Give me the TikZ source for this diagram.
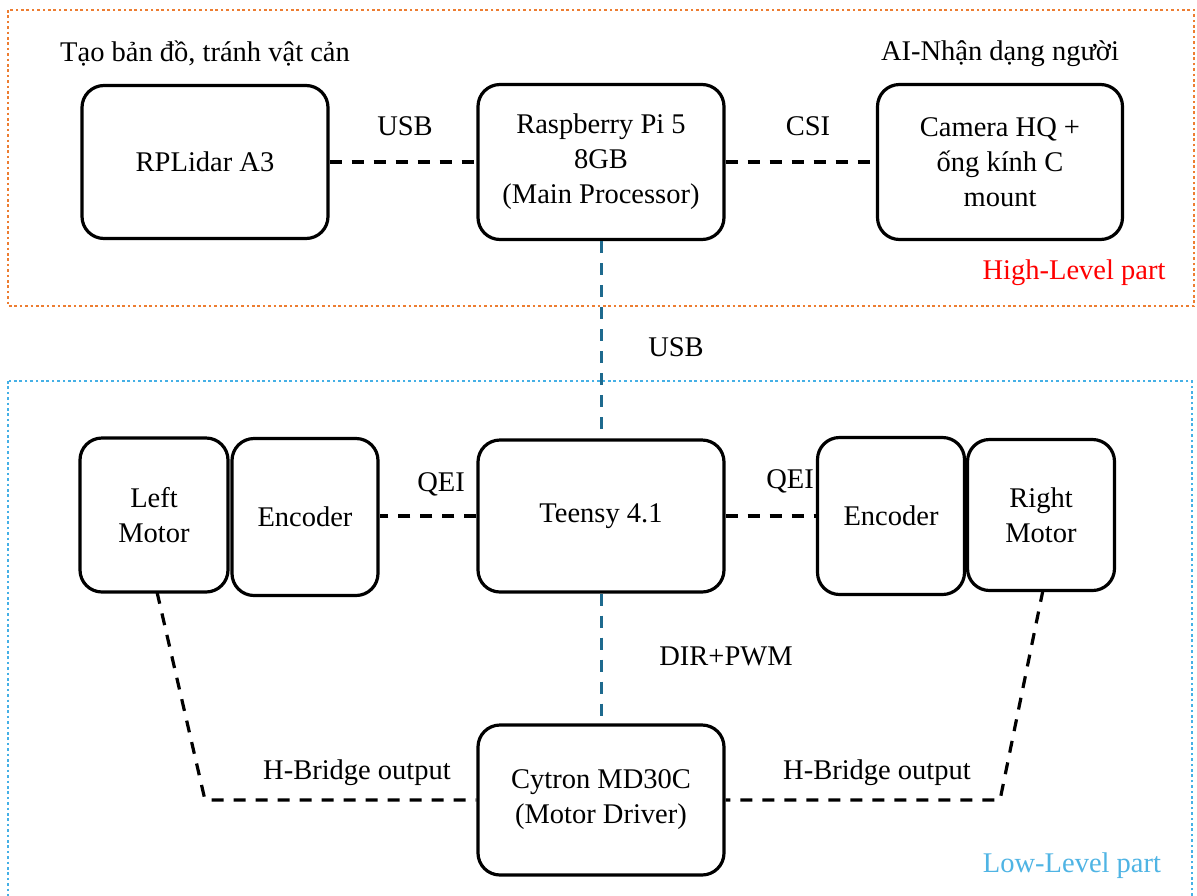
\documentclass[tikz,border=0pt]{standalone}
\usepackage{fontspec}
\setmainfont{Liberation Serif}
\definecolor{hiorange}{HTML}{ED7D31}
\definecolor{loblue}{HTML}{45B0E6}
\definecolor{tealc}{HTML}{1E6A8E}
\definecolor{lotext}{HTML}{4FB4E4}
\tikzset{
  box/.style={draw, line width=3.2pt, rounded corners=22pt, align=center,
    font=\fontsize{28.5}{35}\selectfont, inner sep=0pt},
  conn/.style={line width=3.2pt, dash pattern=on 12pt off 10pt},
  vconn/.style={conn, draw=tealc, line width=3pt},
  lbl/.style={font=\fontsize{28.5}{35}\selectfont, inner sep=0pt, align=center},
  frame/.style={line width=2.8pt, dash pattern=on 2.6pt off 2.8pt},
}
\begin{document}
\begin{tikzpicture}[x=1pt,y=-1pt]
\clip (0,0) rectangle (1197,895);
\fill[white] (0,0) rectangle (1197,895);
% frames
\draw[frame, draw=hiorange] (8,10) rectangle (1194,306);
\draw[frame, draw=loblue] (8,381) rectangle (1192,905);
% high level
\node[box, minimum width=246, minimum height=153] (lidar) at (205,162) {RPLidar A3};
\node[box, minimum width=246, minimum height=155] (rpi) at (601,162) {Raspberry Pi 5\\8GB\\(Main Processor)};
\node[box, minimum width=245, minimum height=155] (cam) at (1000,162) {Camera HQ +\\ống kính C\\mount};
\node[lbl] (t1) at (205,54) {Tạo bản đồ, tránh vật cản};
\node[lbl] (t2) at (1000,54) {AI-Nhận dạng người};
\node[lbl, text=red] (hl) at (1074,273) {High-Level part};
% low level
\node[box, minimum width=148, minimum height=154] (lmot) at (154,515) {Left\\Motor};
\node[box, minimum width=146, minimum height=157] (encl) at (305,517) {Encoder};
\node[box, minimum width=246, minimum height=152] (teensy) at (601,516) {Teensy 4.1};
\node[box, minimum width=147, minimum height=157] (encr) at (891,516) {Encoder};
\node[box, minimum width=147, minimum height=151] (rmot) at (1041,515) {Right\\Motor};
\node[box, minimum width=246, minimum height=150] (cyt) at (601,800) {Cytron MD30C\\(Motor Driver)};
\node[lbl, text=lotext] (ll) at (1072,866) {Low-Level part};
% connectors
\draw[conn] (lidar.east) -- (rpi.west);
\draw[conn] (rpi.east) -- (cam.west);
\draw[vconn] (rpi.south) -- (teensy.north);
\draw[vconn] (teensy.south) -- (cyt.north);
\draw[conn] (teensy.west) -- (teensy.west -| encl.east);
\draw[conn] (teensy.east) -- (teensy.east -| encr.west);
\coordinate (lc) at (205,800);
\coordinate (rc) at (1000,800);
\coordinate (ls) at (157,592);
\coordinate (rs) at (1043,590);
\draw[conn] (ls) -- (lc) -- (cyt.west);
\draw[conn] (rs) -- (rc) -- (cyt.east);
% connector labels
\node[lbl] (u1) at (405,126) {USB};
\node[lbl] (c1) at (808,126) {CSI};
\node[lbl] (u2) at (676,347) {USB};
\node[lbl] (q1) at (441,484) {QEI};
\node[lbl] (q2) at (790,481) {QEI};
\node[lbl] (dp) at (726,656) {DIR+PWM};
\node[lbl] (h1) at (357,773) {H-Bridge output};
\node[lbl] (h2) at (877,773) {H-Bridge output};
\end{tikzpicture}
\end{document}
